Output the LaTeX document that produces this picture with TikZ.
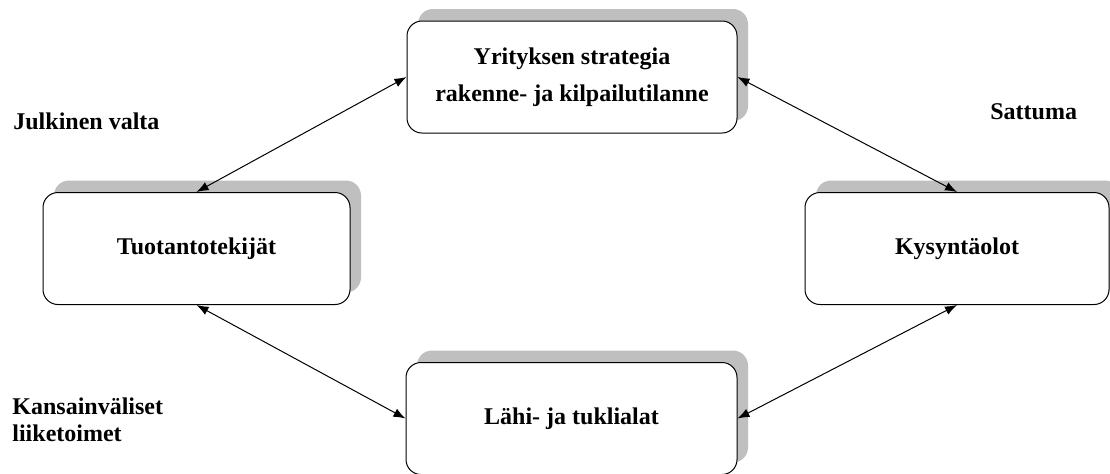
\documentclass[tikz,border=0pt]{standalone}
\usepackage{fontspec}
\setmainfont{Liberation Serif}
\usetikzlibrary{arrows.meta,shadows}

\begin{document}
\begin{tikzpicture}[x=0.5pt, y=-0.5pt,
    font=\fontsize{12}{18.5}\selectfont\bfseries,
    >={Latex[length=6pt,width=4.5pt]},
    factor/.style={draw, line width=0.5pt, rounded corners=7.5pt, fill=white,
      align=center, inner sep=0pt, minimum height=56pt,
      drop shadow={shadow xshift=5.5pt, shadow yshift=6pt, fill=black!25, opacity=1}},
    outer/.style={inner sep=0pt, align=left}]
  \useasboundingbox (0,0) rectangle (1110,473);

  % Diamond boxes
  \node[factor, minimum width=165pt]   (strat) at (572,77)  {Yrityksen strategia\\rakenne- ja kilpailutilanne};
  \node[factor, minimum width=153.5pt] (tuot)  at (196.5,248.5) {Tuotantotekijät};
  \node[factor, minimum width=152pt]   (kys)   at (957,248.5) {Kysyntäolot};
  \node[factor, minimum width=165.5pt] (lahi)  at (571.5,418.5) {Lähi- ja tuklialat};

  % Outside factors
  \node[outer, anchor=base west] (julk) at (13,129) {Julkinen valta};
  \node[outer, anchor=base west] (satt) at (990,119) {Sattuma};
  \node[outer, anchor=base west, font=\fontsize{12}{13.5}\selectfont\bfseries] (kans) at (12,441) {Kansainväliset\\liiketoimet};

  \draw[<->, line width=0.5pt] (strat.west) -- (tuot.north);
  \draw[<->, line width=0.5pt] (strat.east) -- (kys.north);
  \draw[<->, line width=0.5pt] (tuot.south) -- (lahi.west);
  \draw[<->, line width=0.5pt] (lahi.east) -- (kys.south);
\end{tikzpicture}
\end{document}
